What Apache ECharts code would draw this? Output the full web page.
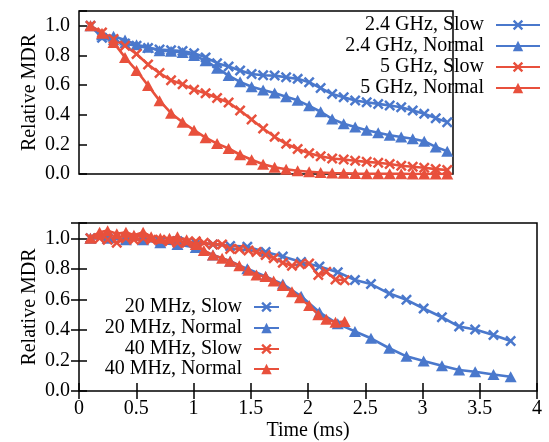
<!DOCTYPE html>
<html>
<head>
<meta charset="utf-8">
<script src="https://cdn.jsdelivr.net/npm/echarts@6/dist/echarts.min.js"></script>
<style>html,body{margin:0;padding:0;background:#fff}#c{width:549px;height:442px}</style>
</head>
<body>
<div id="c"></div>
<script>
// ---- Top panel: frequency band ----
const topTime = [0.1,0.2,0.3,0.4,0.5,0.6,0.7,0.8,0.9,1.0,1.1,1.2,1.3,1.4,1.5,1.6,1.7,1.8,1.9,2.0,2.1,2.2,2.3,2.4,2.5,2.6,2.7,2.8,2.9,3.0,3.1,3.2];
const ghz24Slow   = [1.0,0.92,0.9,0.88,0.865,0.85,0.84,0.835,0.83,0.815,0.787,0.748,0.725,0.698,0.675,0.666,0.664,0.653,0.642,0.619,0.58,0.54,0.518,0.496,0.484,0.473,0.462,0.451,0.429,0.406,0.377,0.35];
const ghz24Normal = [1.0,0.94,0.93,0.905,0.872,0.856,0.832,0.828,0.82,0.8,0.765,0.714,0.664,0.622,0.589,0.567,0.547,0.522,0.497,0.46,0.42,0.372,0.339,0.317,0.295,0.279,0.261,0.25,0.238,0.221,0.183,0.154];
const ghz5Slow    = [1.0,0.955,0.911,0.866,0.81,0.739,0.681,0.632,0.605,0.569,0.545,0.513,0.482,0.428,0.368,0.307,0.251,0.204,0.169,0.14,0.12,0.105,0.098,0.089,0.082,0.076,0.067,0.056,0.049,0.042,0.033,0.027];
const ghz5Normal  = [1.0,0.95,0.887,0.787,0.698,0.597,0.495,0.41,0.349,0.296,0.245,0.205,0.172,0.13,0.096,0.066,0.045,0.032,0.022,0.015,0.01,0.007,0.005,0.003,0.002,0.002,0.001,0.001,0,0,0,0];

// ---- Bottom panel: channel width ----
const time20 = [0.10,0.25,0.41,0.56,0.71,0.86,1.02,1.17,1.32,1.47,1.63,1.78,1.94,2.10,2.26,2.41,2.55,2.71,2.86,3.01,3.17,3.32,3.46,3.62,3.77];
const mhz20Slow   = [1.0,1.0,0.99,0.99,0.98,0.98,0.97,0.96,0.95,0.945,0.91,0.88,0.845,0.815,0.778,0.727,0.70,0.638,0.597,0.54,0.483,0.422,0.403,0.366,0.328];
const mhz20Normal = [1.0,1.0,0.99,0.99,0.97,0.96,0.94,0.89,0.85,0.80,0.75,0.70,0.62,0.515,0.44,0.39,0.345,0.28,0.227,0.197,0.165,0.137,0.126,0.108,0.093];
const time40 = [0.10,0.18,0.25,0.33,0.41,0.48,0.56,0.63,0.71,0.79,0.86,0.94,1.02,1.09,1.17,1.25,1.32,1.40,1.48,1.55,1.63,1.70,1.78,1.86,1.93,2.01,2.09,2.16,2.24,2.32];
const mhz40Slow   = [1.0,1.0,0.99,0.97,1.0,0.99,1.0,0.99,0.99,0.98,0.97,0.97,0.98,0.97,0.96,0.96,0.93,0.93,0.92,0.91,0.89,0.87,0.84,0.82,0.83,0.835,0.76,0.78,0.73,0.725];
const mhz40Normal = [1.0,1.04,1.05,1.03,1.04,1.02,1.04,1.01,1.0,1.0,1.01,0.99,0.96,0.92,0.89,0.87,0.85,0.82,0.79,0.76,0.75,0.72,0.69,0.65,0.61,0.56,0.5,0.47,0.45,0.455];

const xTickLabels = ['0','0.5','1','1.5','2','2.5','3','3.5','4'];
const topNames = ['2.4 GHz, Slow','2.4 GHz, Normal','5 GHz, Slow','5 GHz, Normal'];
const botNames = ['20 MHz, Slow','20 MHz, Normal','40 MHz, Slow','40 MHz, Normal'];

const BLUE = '#4a78cc', RED = '#e8503c';
const FONT = 'Liberation Serif';
const CROSS = 'path://M0,1.6 L1.6,0 L5,3.4 L8.4,0 L10,1.6 L6.6,5 L10,8.4 L8.4,10 L5,6.6 L1.6,10 L0,8.4 L3.4,5 Z';

function pairs(xs, ys){ return xs.map((x,i)=>[x, ys[i]]); }
function mkSeries(name, xs, ys, color, sym, gi){
  const isTri = sym === 'triangle';
  return {
    name, type:'line', xAxisIndex: gi===0?0:1, yAxisIndex: gi===0?0:1,
    data: pairs(xs, ys), symbol: sym, symbolSize: isTri ? [12,11] : 11,
    showAllSymbol: true, animation:false,
    lineStyle:{color, width:2.6}, itemStyle:{color}
  };
}

const series = [
  mkSeries(topNames[0], topTime, ghz24Slow, BLUE, CROSS, 0),
  mkSeries(topNames[1], topTime, ghz24Normal, BLUE, 'triangle', 0),
  mkSeries(topNames[2], topTime, ghz5Slow, RED, CROSS, 0),
  mkSeries(topNames[3], topTime, ghz5Normal, RED, 'triangle', 0),
  mkSeries(botNames[0], time20, mhz20Slow, BLUE, CROSS, 1),
  mkSeries(botNames[1], time20, mhz20Normal, BLUE, 'triangle', 1),
  mkSeries(botNames[2], time40, mhz40Slow, RED, CROSS, 1),
  mkSeries(botNames[3], time40, mhz40Normal, RED, 'triangle', 1)
];

const legendText = {fontFamily: FONT, fontSize: 20, color:'#000', padding:[0,7,0,0]};
const legends = [];
const topRows = [15, 36, 57, 78];
const botRows = [297, 318, 339, 359];
topNames.forEach((n,i)=>legends.push({data:[n], right:8, top:topRows[i], align:'right', orient:'vertical', padding:0,
  itemWidth:44, itemHeight:13, textStyle:legendText, selectedMode:false}));
botNames.forEach((n,i)=>legends.push({data:[n], right:269, top:botRows[i], align:'right', orient:'vertical', padding:0,
  itemWidth:25, itemHeight:13, textStyle:legendText, selectedMode:false}));

const tickStyle = {inside:true, length:8, lineStyle:{color:'#000', width:1.5}};
const yLabel = {fontFamily:FONT, fontSize:20, color:'#000', margin:9,
  formatter: v => v > 1.05 ? '' : v.toFixed(1)};
const yName = {fontFamily:FONT, fontSize:20, color:'#000'};

const option = {
  backgroundColor:'#fff',
  animation:false,
  grid:[
    {left:79, right:96, top:11, height:163, show:true, borderColor:'#000', borderWidth:1.5, backgroundColor:'transparent'},
    {left:79, right:12, top:223, height:169, show:true, borderColor:'#000', borderWidth:1.5, backgroundColor:'transparent'}
  ],
  xAxis:[
    {gridIndex:0, type:'value', min:0, max:3.25, axisLine:{show:false}, axisTick:{show:false}, axisLabel:{show:false}, splitLine:{show:false}},
    {gridIndex:1, type:'value', min:0, max:4, interval:0.5, axisLine:{show:false}, axisTick:tickStyle,
      axisLabel:{fontFamily:FONT, fontSize:20, color:'#000', margin:8, formatter:(v)=>xTickLabels[Math.round(v*2)]},
      splitLine:{show:false}, name:'Time (ms)', nameLocation:'middle', nameGap:30, nameMoveOverlap:false, nameTextStyle:yName},
    {gridIndex:1, type:'value', position:'top', min:0, max:4, interval:0.5, axisLine:{show:false}, axisTick:tickStyle, axisLabel:{show:false}, splitLine:{show:false}}
  ],
  yAxis:[
    {gridIndex:0, type:'value', min:0, max:1.1, interval:0.2, axisLine:{show:false}, axisTick:tickStyle, axisLabel:yLabel,
      splitLine:{show:false}, name:'Relative MDR', nameLocation:'middle', nameGap:39, nameMoveOverlap:false, nameTextStyle:yName},
    {gridIndex:1, type:'value', min:0, max:1.1, interval:0.2, axisLine:{show:false}, axisTick:tickStyle, axisLabel:yLabel,
      splitLine:{show:false}, name:'Relative MDR', nameLocation:'middle', nameGap:39, nameMoveOverlap:false, nameTextStyle:yName},
    {gridIndex:1, type:'value', position:'right', min:0, max:1.1, interval:0.2, axisLine:{show:false}, axisTick:tickStyle, axisLabel:{show:false}, splitLine:{show:false}}
  ],
  legend: legends,
  series
};
const chart = echarts.init(document.getElementById('c'), null, {renderer:'canvas'});
chart.setOption(option);
</script>
</body>
</html>
